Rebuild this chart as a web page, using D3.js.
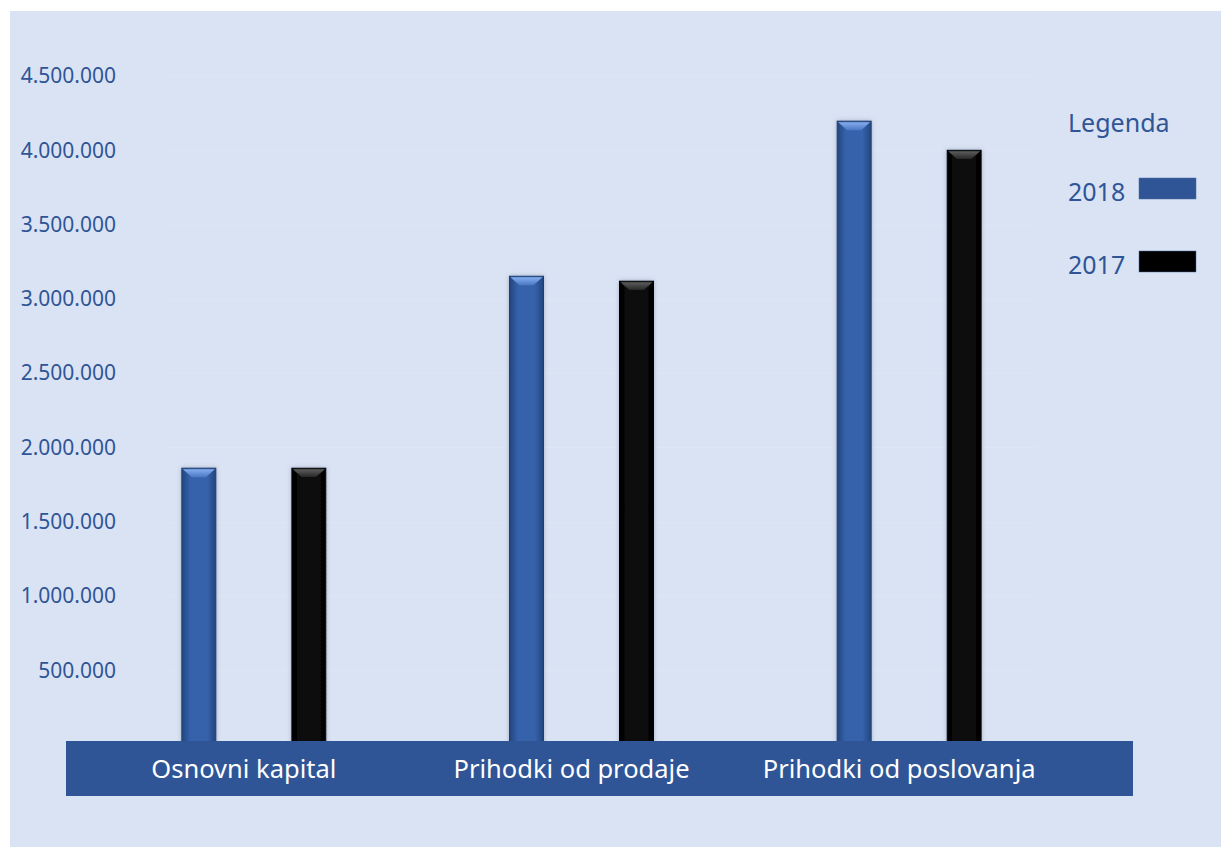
<!DOCTYPE html>
<html>
<head>
<meta charset="utf-8">
<script src="https://cdn.jsdelivr.net/npm/d3@7"></script>
<style>
  body { margin: 0; background: #fff; }
  svg { display: block; font-family: "Noto Sans", sans-serif; }
</style>
</head>
<body>
<div id="chart"></div>
<script>
const categories = ["Osnovni kapital", "Prihodki od prodaje", "Prihodki od poslovanja"];
const years = ["2018", "2017"];
const values2018 = [1860000, 3152000, 4196000];
const values2017 = [1860000, 3119000, 4000000];
const yTicks = [500000, 1000000, 1500000, 2000000, 2500000, 3000000, 3500000, 4000000, 4500000];

const seriesValues = { "2018": values2018, "2017": values2017 };
const data = categories.map((c, i) => ({
  category: c,
  bars: years.map(y => ({ year: y, value: seriesValues[y][i] }))
}));

const W = 1221, H = 847;
const svg = d3.select("#chart").append("svg")
  .attr("width", W)
  .attr("height", H);

// gradients / filter
const defs = svg.append("defs");
const grads = {
  "2018": { edge: "#22467f", mid: "#3562ab", bevel: ["#86aeef", "#4a78c4"] },
  "2017": { edge: "#000000", mid: "#0b0b0b", bevel: ["#5e5e5e", "#242424"] }
};
years.forEach(y => {
  const g = defs.append("linearGradient").attr("id", "bar" + y)
    .attr("x1", "0%").attr("x2", "100%");
  g.append("stop").attr("offset", "0%").attr("stop-color", grads[y].edge);
  g.append("stop").attr("offset", "25%").attr("stop-color", grads[y].mid);
  g.append("stop").attr("offset", "75%").attr("stop-color", grads[y].mid);
  g.append("stop").attr("offset", "100%").attr("stop-color", grads[y].edge);
  const b = defs.append("linearGradient").attr("id", "bevel" + y)
    .attr("x1", "0%").attr("y1", "0%").attr("x2", "0%").attr("y2", "100%");
  b.append("stop").attr("offset", "0%").attr("stop-color", grads[y].bevel[0]);
  b.append("stop").attr("offset", "100%").attr("stop-color", grads[y].bevel[1]);
});
const shadow = defs.append("filter").attr("id", "shadow")
  .attr("x", "-30%").attr("y", "-10%").attr("width", "160%").attr("height", "120%");
shadow.append("feDropShadow").attr("dx", 0).attr("dy", 0).attr("stdDeviation", 2)
  .attr("flood-color", "#5a6b8c").attr("flood-opacity", 0.45);

// panel background
svg.append("rect")
  .attr("x", 10).attr("y", 11)
  .attr("width", W - 10).attr("height", H - 11)
  .attr("fill", "#dae3f3");

const x0 = d3.scaleBand().domain(categories).range([90, 1073]);
const bw = x0.bandwidth();
const x1 = d3.scaleBand().domain(years)
  .range([bw / 2 - 72, bw / 2 + 72]).paddingInner(0.691);
const y = d3.scaleLinear().domain([0, 4500000]).range([744.5, 76]);

const fmt = d3.formatLocale({ decimal: ",", thousands: ".", grouping: [3], currency: ["", " €"] }).format(",d");

// faint gridlines
svg.append("g")
  .selectAll("line")
  .data(yTicks)
  .join("line")
  .attr("x1", 165).attr("x2", 1037)
  .attr("y1", d => Math.round(y(d)) + 0.5)
  .attr("y2", d => Math.round(y(d)) + 0.5)
  .attr("stroke", "#dee6f5")
  .attr("stroke-width", 1);

// y axis labels
svg.append("g")
  .selectAll("text")
  .data(yTicks)
  .join("text")
  .attr("x", 116)
  .attr("y", d => y(d))
  .attr("dy", "0.35em")
  .attr("text-anchor", "end")
  .attr("font-size", 21)
  .attr("fill", "#2f5597")
  .text(d => fmt(d));

// bars
const base = y(0);
const groups = svg.append("g")
  .selectAll("g")
  .data(data)
  .join("g")
  .attr("transform", d => `translate(${x0(d.category)},0)`);

const bar = groups.selectAll("g.bar")
  .data(d => d.bars)
  .join("g")
  .attr("class", "bar")
  .attr("filter", "url(#shadow)");

bar.append("rect")
  .attr("x", d => x1(d.year))
  .attr("y", d => y(d.value))
  .attr("width", x1.bandwidth())
  .attr("height", d => base - y(d.value))
  .attr("fill", d => `url(#bar${d.year})`)
  .attr("stroke", d => d.year === "2018" ? "#1f3f75" : "#000")
  .attr("stroke-width", 1);

// top bevel
bar.append("path")
  .attr("d", d => {
    const l = x1(d.year), r = l + x1.bandwidth(), t = y(d.value);
    const inset = 10, depth = 9;
    return `M${l + 1},${t + 1}L${r - 1},${t + 1}L${r - inset},${t + depth}L${l + inset},${t + depth}Z`;
  })
  .attr("fill", d => `url(#bevel${d.year})`);

// category band
svg.append("rect")
  .attr("x", 66).attr("y", 741)
  .attr("width", 1133 - 66).attr("height", 55)
  .attr("fill", "#2f5597");

svg.append("g")
  .selectAll("text")
  .data(categories)
  .join("text")
  .attr("x", d => x0(d) + bw / 2 - 10)
  .attr("y", 778)
  .attr("text-anchor", "middle")
  .attr("font-size", 25.5)
  .attr("fill", "#ffffff")
  .text(d => d);

// legend
const legend = svg.append("g");
legend.append("text")
  .attr("x", 1068).attr("y", 132)
  .attr("font-size", 25)
  .attr("fill", "#2f5597")
  .text("Legenda");

const legendColors = { "2018": "#2f5597", "2017": "#000000" };
const li = legend.selectAll("g.item")
  .data(years)
  .join("g")
  .attr("class", "item")
  .attr("transform", (d, i) => `translate(0,${i * 73})`);
li.append("text")
  .attr("x", 1068).attr("y", 201)
  .attr("font-size", 25)
  .attr("fill", "#2f5597")
  .text(d => d);
li.append("rect")
  .attr("x", 1139).attr("y", 178)
  .attr("width", 57).attr("height", 21)
  .attr("fill", d => legendColors[d])
  .attr("stroke", "#4a6aa5")
  .attr("stroke-width", 0.5);
</script>
</body>
</html>
